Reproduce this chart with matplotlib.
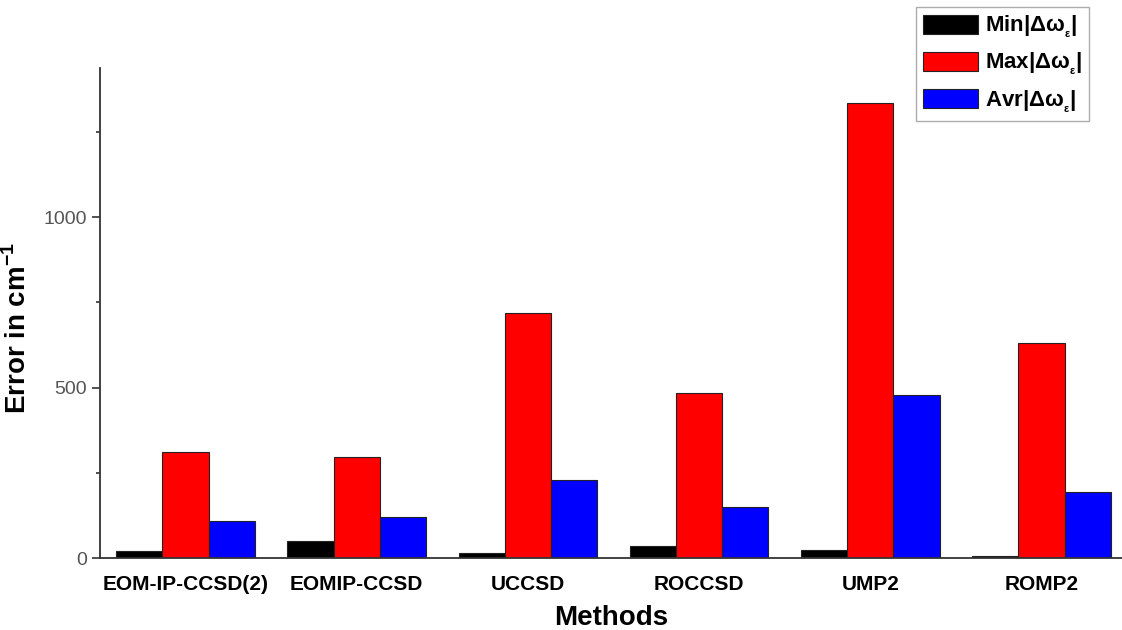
import numpy as np
import matplotlib.pyplot as plt
from matplotlib.ticker import MultipleLocator

plt.rcParams['font.family'] = ['Liberation Sans', 'DejaVu Sans']

methods = ['EOM-IP-CCSD(2)', 'EOMIP-CCSD', 'UCCSD', 'ROCCSD', 'UMP2', 'ROMP2']
min_err = [20, 50, 15, 35, 23, 5]
max_err = [311, 296, 718, 484, 1334, 630]
avr_err = [108, 120, 229, 150, 478, 194]

series = [
    (min_err, '#000000', 'Min|Δω$_{\\mathregular{_ε}}$|'),
    (max_err, '#ff0000', 'Max|Δω$_{\\mathregular{_ε}}$|'),
    (avr_err, '#0000ff', 'Avr|Δω$_{\\mathregular{_ε}}$|'),
]

fig = plt.figure(figsize=(11.22, 6.30), dpi=100)
ax = fig.add_axes([0.089, 0.114, 0.911, 0.778])

x = np.arange(len(methods))
w = 0.27
for i, (vals, col, lab) in enumerate(series):
    ax.bar(x + (i - 1) * w, vals, w, color=col, edgecolor='#222222',
           linewidth=0.8, label=lab)

ax.set_xlim(-0.5, 5.47)
ax.set_ylim(0, 1437)
ax.set_xticks(x)
ax.set_xticklabels(methods, fontsize=15, fontweight='bold')
ax.yaxis.set_major_locator(MultipleLocator(500))
ax.yaxis.set_minor_locator(MultipleLocator(250))
ax.tick_params(axis='y', which='major', length=6, width=1.2,
               labelsize=14, labelcolor='#555555', color='#333333')
ax.tick_params(axis='y', which='minor', length=3, width=1.2, color='#333333')
ax.tick_params(axis='x', length=0, pad=12)

for s in ['top', 'right']:
    ax.spines[s].set_visible(False)
for s in ['left', 'bottom']:
    ax.spines[s].set_linewidth(1.3)
    ax.spines[s].set_color('#333333')

ax.set_ylabel('Error in cm$^{\\mathregular{-1}}$', fontsize=20,
              fontweight='bold')
ax.yaxis.set_label_coords(-0.066, 0.47)
ax.set_xlabel('Methods', fontsize=20, fontweight='bold', labelpad=8)

leg = ax.legend(loc='upper right', bbox_to_anchor=(0.968, 1.124),
                prop={'size': 16, 'weight': 'bold'}, fancybox=False,
                edgecolor='#999999', handlelength=2.5, handleheight=0.95,
                borderpad=0.3, labelspacing=0.5, handletextpad=0.3,
                borderaxespad=0.0)
leg.get_frame().set_linewidth(1.0)

fig.savefig('out.png', dpi=100)
